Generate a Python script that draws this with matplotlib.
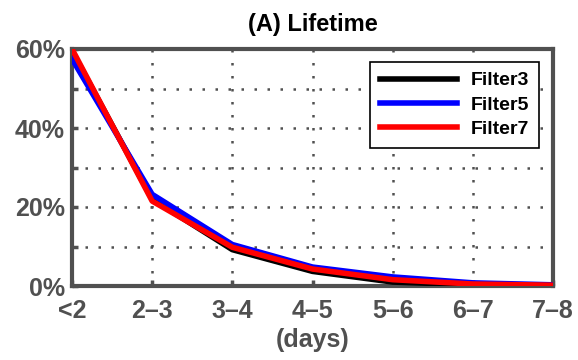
import numpy as np
import matplotlib.pyplot as plt

categories = ["<2", "2\u20133", "3\u20134", "4\u20135", "5\u20136", "6\u20137", "7\u20138"]
filter3 = [59.5, 22.0, 9.2, 3.7, 1.0, 0.3, 0.1]
filter5 = [57.5, 23.2, 10.5, 4.8, 2.3, 0.8, 0.3]
filter7 = [60.0, 21.5, 9.8, 4.3, 1.6, 0.5, 0.2]

plt.rcParams["font.family"] = ["Liberation Sans", "DejaVu Sans"]
plt.rcParams["font.weight"] = "bold"
grey = "#505050"

fig = plt.figure(figsize=(5.78, 3.6), dpi=100)
ax = fig.add_axes([72 / 578, 1 - 286 / 360, 481 / 578, 237 / 360])

x = np.arange(len(categories))
ax.plot(x, filter3, color="black", lw=4, label="Filter3", zorder=3)
ax.plot(x, filter5, color="blue", lw=4, label="Filter5", zorder=4)
ax.plot(x, filter7, color="red", lw=4, label="Filter7", zorder=5)

ax.set_xlim(0, 6)
ax.set_ylim(0, 60)
ax.set_xticks(x)
ax.set_xticklabels(categories)
ax.set_yticks(np.arange(0, 61, 10))
ax.set_yticklabels(["0%", "", "20%", "", "40%", "", "60%"])
ax.tick_params(direction="in", length=4, width=2.5, colors=grey, labelsize=18)
ax.tick_params(axis="x", pad=9)
ax.tick_params(axis="y", pad=5)
for lab in ax.get_xticklabels() + ax.get_yticklabels():
    lab.set_fontweight("bold")
ax.grid(True, color=grey, linestyle=(0, (1, 4.2)), lw=1.8)
for s in ax.spines.values():
    s.set_color(grey)
    s.set_linewidth(3)

ax.set_xlabel("(days)", fontsize=18, fontweight="bold", color=grey, labelpad=4)
ax.set_title("(A) Lifetime", fontsize=17, fontweight="bold", pad=13)

leg = ax.legend(loc="upper right", bbox_to_anchor=(0.971, 0.945), fontsize=14,
                fancybox=False, framealpha=1, edgecolor="black",
                handlelength=4.0, borderpad=0.5, labelspacing=0.35,
                handletextpad=0.7, borderaxespad=0)
leg.get_frame().set_linewidth(1.2)
for t in leg.get_texts():
    t.set_fontweight("bold")

fig.savefig("out.png", dpi=100)
